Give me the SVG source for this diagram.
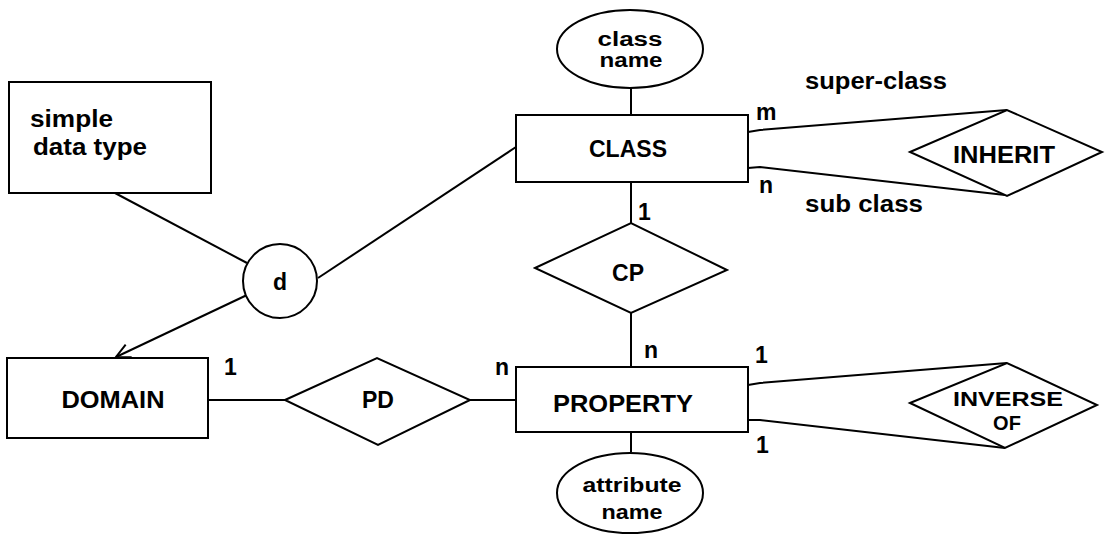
<svg xmlns="http://www.w3.org/2000/svg" width="1107" height="535" viewBox="0 0 1107 535">
<style>
.s{fill:#fff;stroke:#000;stroke-width:2}
.c{fill:none;stroke:#000;stroke-width:2}
text{font-family:"Liberation Sans",Arial,sans-serif;font-weight:bold;font-size:23px;fill:#000}
.m{text-anchor:middle}
.t{font-size:20px}
</style>
<defs>
<marker id="arr" markerWidth="20" markerHeight="20" refX="16" refY="10" orient="auto" markerUnits="userSpaceOnUse">
<path d="M2,3 L16,10 L2,17" fill="none" stroke="#000" stroke-width="2"/>
</marker>
</defs>
<rect width="1107" height="535" fill="#fff"/>
<g id="connectors">
<line class="c" x1="631" y1="88" x2="631" y2="115"/>
<line class="c" x1="631" y1="182" x2="631" y2="223"/>
<line class="c" x1="631" y1="313" x2="631" y2="367"/>
<line class="c" x1="631" y1="432" x2="631" y2="452"/>
<polyline class="c" points="748,132 760,130 1007,110"/>
<polyline class="c" points="748,168 760,167 1005,195"/>
<polyline class="c" points="748,385 760,383 1007,363"/>
<polyline class="c" points="748,420 760,420 1005,448"/>
<line class="c" x1="208" y1="400" x2="285" y2="400"/>
<line class="c" x1="470" y1="400" x2="516" y2="400"/>
<line class="c" x1="115" y1="193" x2="247" y2="263"/>
<line class="c" x1="318" y1="278" x2="516" y2="147"/>
<line class="c" x1="247" y1="295" x2="116" y2="357" marker-end="url(#arr)"/>
</g>
<g id="class_name">
<ellipse class="s" cx="630" cy="49" rx="73" ry="39"/>
<text class="m t" x="630" y="46" textLength="65" lengthAdjust="spacingAndGlyphs">class</text>
<text class="m t" x="631" y="67" textLength="63" lengthAdjust="spacingAndGlyphs">name</text>
</g>
<g id="class">
<rect class="s" x="516" y="115" width="232" height="67"/>
<text class="m" x="628" y="157" textLength="78" lengthAdjust="spacingAndGlyphs">CLASS</text>
</g>
<g id="inherit">
<polygon class="s" points="910,152 1007,110 1102,152 1007,196"/>
<text class="m" x="1004" y="163" textLength="102" lengthAdjust="spacingAndGlyphs">INHERIT</text>
</g>
<g id="cp">
<polygon class="s" points="535,268 631,223 727,270 631,313"/>
<text class="m" x="628" y="281">CP</text>
</g>
<g id="property">
<rect class="s" x="516" y="367" width="232" height="65"/>
<text class="m" x="623" y="412" textLength="140" lengthAdjust="spacingAndGlyphs">PROPERTY</text>
</g>
<g id="inverse_of">
<polygon class="s" points="910,403 1007,363 1097,405 1005,448"/>
<text class="m t" x="1008" y="406" textLength="110" lengthAdjust="spacingAndGlyphs">INVERSE</text>
<text class="m t" x="1007" y="430">OF</text>
</g>
<g id="attribute_name">
<ellipse class="s" cx="630" cy="493" rx="73" ry="40"/>
<text class="m t" x="632" y="492" textLength="99" lengthAdjust="spacingAndGlyphs">attribute</text>
<text class="m t" x="632" y="519" textLength="61" lengthAdjust="spacingAndGlyphs">name</text>
</g>
<g id="domain">
<rect class="s" x="7" y="358" width="201" height="80"/>
<text class="m" x="113" y="408" textLength="103" lengthAdjust="spacingAndGlyphs">DOMAIN</text>
</g>
<g id="pd">
<polygon class="s" points="285,400 377,358 470,400 378,445"/>
<text class="m" x="378" y="408">PD</text>
</g>
<g id="simple_data_type">
<rect class="s" x="9" y="82" width="202" height="111"/>
<text x="30" y="127" textLength="83" lengthAdjust="spacingAndGlyphs">simple</text>
<text x="33" y="155" textLength="114" lengthAdjust="spacingAndGlyphs">data type</text>
</g>
<g id="d">
<circle class="s" cx="280" cy="281" r="37"/>
<text class="m" x="280" y="290">d</text>
</g>
<g id="labels">
<text x="756" y="120">m</text>
<text x="759" y="193">n</text>
<text x="638" y="220">1</text>
<text x="805" y="89" textLength="142" lengthAdjust="spacingAndGlyphs">super-class</text>
<text x="805" y="212" textLength="118" lengthAdjust="spacingAndGlyphs">sub class</text>
<text x="644" y="358">n</text>
<text x="755" y="363">1</text>
<text x="495" y="375">n</text>
<text x="756" y="453">1</text>
<text x="224" y="375">1</text>
</g>
</svg>
